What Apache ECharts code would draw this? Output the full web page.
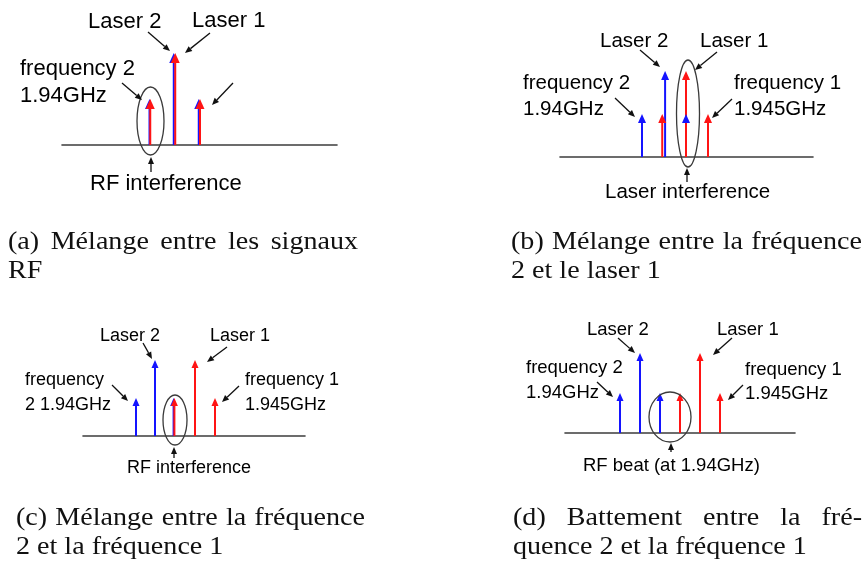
<!DOCTYPE html>
<html><head><meta charset="utf-8">
<script src="https://cdn.jsdelivr.net/npm/echarts@6/dist/echarts.min.js"></script>
<style>html,body{margin:0;padding:0;background:#fff}#c{width:866px;height:561px}</style>
</head><body><div id="c"></div>
<script>
// ---------- data (relative frequency units, amplitude 1 = small tone, 2 = laser) ----------
// (a) RF mixing
const aBlueFreq = [-1.02, -0.03, 0.99];
const aBlueAmp  = [1, 2, 1];
const aRedFreq  = [-0.99, 0.03, 1.04];
const aRedAmp   = [1, 2, 1];
// (b) frequency 2 with laser 1
const bBlueFreq = [-2, -0.95, 0];
const bBlueAmp  = [1, 2, 1];
const bRedFreq  = [-1.08, 0, 1];
const bRedAmp   = [1, 2, 1];
// (c) frequency 2 with frequency 1
const cBlueFreq = [-1.95, -1, -0.07];
const cBlueAmp  = [1, 2, 1];
const cRedFreq  = [-0.03, 1, 2];
const cRedAmp   = [1, 2, 1];
// (d) beat between frequency 2 and frequency 1
const dBlueFreq = [-2.5, -1.5, -0.5];
const dBlueAmp  = [1, 2, 1];
const dRedFreq  = [0.5, 1.5, 2.5];
const dRedAmp   = [1, 2, 1];

const captionA = [["(a)", "Mélange", "entre", "les", "signaux"], ["RF"]];
const captionB = [["(b)", "Mélange", "entre", "la", "fréquence"], ["2 et le laser 1"]];
const captionC = [["(c)", "Mélange", "entre", "la", "fréquence"], ["2 et la fréquence 1"]];
const captionD = [["(d)", "Battement", "entre", "la", "fré-"], ["quence 2 et la fréquence 1"]];

// ---------- layout ----------
const BLUE = '#1414ff', RED = '#ff1414';
const SANS = '"Liberation Sans", Arial, sans-serif';
const SERIF = '"Liberation Serif", "Times New Roman", serif';

const panels = [
  {baseY:145, left:62,  width:275, min:-4.592, max:6.633, unit:46, hw:9, hh:10,
   blue:[aBlueFreq,aBlueAmp], red:[aRedFreq,aRedAmp]},
  {baseY:157, left:560, width:253, min:-5.727, max:5.773, unit:43, hw:8, hh:9,
   blue:[bBlueFreq,bBlueAmp], red:[bRedFreq,bRedAmp]},
  {baseY:436, left:83,  width:222, min:-4.6,   max:6.5,   unit:38, hw:7, hh:8,
   blue:[cBlueFreq,cBlueAmp], red:[cRedFreq,cRedAmp]},
  {baseY:433, left:565, width:230, min:-5.25,  max:6.25,  unit:40, hw:7, hh:8,
   blue:[dBlueFreq,dBlueAmp], red:[dRedFreq,dRedAmp]}
];
const YMAX = 2.3;

const grids = [], xAxes = [], yAxes = [], series = [];
panels.forEach((p, i) => {
  const h = YMAX * p.unit;
  grids.push({left:p.left, top:p.baseY - h, width:p.width, height:h, containLabel:false});
  xAxes.push({type:'value', gridIndex:i, min:p.min, max:p.max,
    axisLine:{show:true, onZero:false, lineStyle:{color:'#3c3c3c', width:1.6}},
    axisTick:{show:false}, axisLabel:{show:false}, splitLine:{show:false}});
  yAxes.push({type:'value', gridIndex:i, min:0, max:YMAX, show:false, splitLine:{show:false}});
  const mk = (arr) => arr[0].map((f, k) => [f, arr[1][k]]);
  const stem = (color, z) => ({
    type:'custom', xAxisIndex:i, yAxisIndex:i, z:z, silent:true, animation:false,
    data: mk(color === BLUE ? p.blue : p.red),
    renderItem: (params, api) => {
      const b = api.coord([api.value(0), 0]);
      const t = api.coord([api.value(0), api.value(1)]);
      return {type:'line', shape:{x1:b[0], y1:b[1], x2:t[0], y2:t[1] + p.hh - 1},
              style:{stroke:color, lineWidth:2}};
    }
  });
  const head = (color, z) => ({
    type:'custom', xAxisIndex:i, yAxisIndex:i, z:z, silent:true, animation:false,
    data: mk(color === BLUE ? p.blue : p.red),
    renderItem: (params, api) => {
      const t = api.coord([api.value(0), api.value(1)]);
      return {type:'polygon', shape:{points:[[t[0]-p.hw/2, t[1]+p.hh],[t[0]+p.hw/2, t[1]+p.hh],[t[0], t[1]]]},
              style:{fill:color}};
    }
  });
  series.push(stem(BLUE, 2), stem(RED, 3), head(BLUE, 4), head(RED, 5));
});

// ---------- annotations ----------
const g = [];
function txt(s, x, y, size) {
  g.push({type:'text', x:x, y:y, silent:true, z:10,
    style:{text:s, fontSize:size, fontFamily:SANS, fill:'#000',
           textAlign:'left', textVerticalAlign:'middle', align:'left', verticalAlign:'middle'}});
}
function arrow(x1, y1, x2, y2) {
  const dx = x2 - x1, dy = y2 - y1, L = Math.hypot(dx, dy);
  const ux = dx / L, uy = dy / L, hl = 7, hw = 3;
  const bx = x2 - ux * hl, by = y2 - uy * hl;
  g.push({type:'line', silent:true, z:10, shape:{x1:x1, y1:y1, x2:bx, y2:by},
          style:{stroke:'#111', lineWidth:1.3}});
  g.push({type:'polygon', silent:true, z:10,
          shape:{points:[[x2, y2], [bx - uy * hw, by + ux * hw], [bx + uy * hw, by - ux * hw]]},
          style:{fill:'#111'}});
}
function ell(cx, cy, rx, ry) {
  g.push({type:'ellipse', silent:true, z:9, shape:{cx:cx, cy:cy, rx:rx, ry:ry},
          style:{fill:'none', stroke:'#3a3a3a', lineWidth:1.3}});
}
// (a)
txt('Laser 2', 88, 22, 22); txt('Laser 1', 192, 21, 22);
txt('frequency 2', 20, 69, 22); txt('1.94GHz', 20, 96, 22);
txt('RF interference', 90, 184, 22);
arrow(148, 32, 170, 51); arrow(210, 33, 185, 53);
arrow(122, 83, 142, 100); arrow(233, 83, 212, 105);
arrow(151, 172, 151, 157);
ell(150.5, 121, 13.5, 34);
// (b)
txt('Laser 2', 600, 41, 20.5); txt('Laser 1', 700, 41, 20.5);
txt('frequency 2', 523, 83, 20.5); txt('1.94GHz', 523, 109, 20.5);
txt('frequency 1', 734, 83, 20.5); txt('1.945GHz', 734, 109, 20.5);
txt('Laser interference', 605, 192, 20.5);
arrow(640, 50, 660, 67); arrow(717, 52, 695, 70);
arrow(615, 98, 635, 117); arrow(732, 99, 712, 118);
arrow(687, 182, 687, 168);
ell(688, 113.5, 11.5, 53.5);
// (c)
txt('Laser 2', 100, 336, 18); txt('Laser 1', 210, 336, 18);
txt('frequency', 25, 380.5, 18); txt('2 1.94GHz', 25, 405, 18);
txt('frequency 1', 245, 380.5, 18); txt('1.945GHz', 245, 405, 18);
txt('RF interference', 127, 468, 18);
arrow(143, 343, 152, 359); arrow(227, 347, 207, 362);
arrow(112, 385, 128, 401); arrow(239, 386, 222, 402);
arrow(174, 458, 174, 447);
ell(175, 420, 12, 25);
// (d)
txt('Laser 2', 587, 330, 18.5); txt('Laser 1', 717, 330, 18.5);
txt('frequency 2', 526, 368, 18.5); txt('1.94GHz', 526, 392.5, 18.5);
txt('frequency 1', 745, 370, 18.5); txt('1.945GHz', 745, 394, 18.5);
txt('RF beat (at 1.94GHz)', 583, 466, 18.5);
arrow(618, 338, 635, 353); arrow(732, 338, 713, 355);
arrow(597, 382, 613, 397); arrow(743, 385, 728, 400);
arrow(671, 452, 671, 443);
ell(670, 417, 21, 25);

// ---------- captions (serif, justified first line) ----------
const CAP_SIZE = 26, SX = 1.08;
const ctx = document.createElement('canvas').getContext('2d');
ctx.font = CAP_SIZE + 'px ' + SERIF;
function capWord(s, x, y) {
  g.push({type:'text', x:x, y:y, scaleX:SX, silent:true, z:10,
    style:{text:s, fontSize:CAP_SIZE, fontFamily:SERIF, fill:'#111',
           textAlign:'left', textVerticalAlign:'middle', align:'left', verticalAlign:'middle'}});
}
function caption(lines, x0, x1, y1, y2) {
  const words = lines[0];
  const ws = words.map(w => ctx.measureText(w).width * SX);
  const gap = (x1 - x0 - ws.reduce((a, b) => a + b, 0)) / (words.length - 1);
  let x = x0;
  words.forEach((w, k) => { capWord(w, x, y1); x += ws[k] + gap; });
  capWord(lines[1][0], x0, y2);
}
caption(captionA, 8, 358, 242, 271);
caption(captionB, 511, 862, 242, 271);
caption(captionC, 16, 365, 518, 547);
caption(captionD, 513, 862, 518, 547);

const chart = echarts.init(document.getElementById('c'), null, {renderer:'canvas'});
chart.setOption({
  animation:false, backgroundColor:'#fff',
  grid:grids, xAxis:xAxes, yAxis:yAxes, series:series, graphic:{elements:g}
});
</script></body></html>
